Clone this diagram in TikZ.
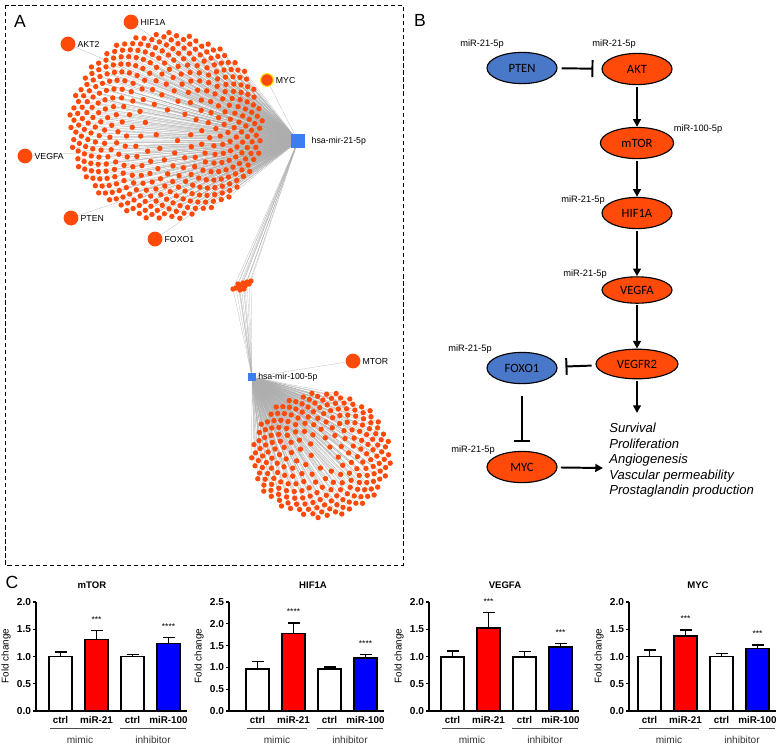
\documentclass[tikz,border=0pt]{standalone}
\usepackage{fontspec}
\setmainfont{Liberation Sans}
\newfontfamily\ovalfont{Carlito}
\usetikzlibrary{positioning,arrows.meta,backgrounds,shapes.geometric}
\definecolor{netred}{HTML}{FF4A0A}
\definecolor{hubblue}{HTML}{3C7DF2}
\definecolor{ovblue}{HTML}{4A78C8}
\definecolor{barred}{HTML}{FF0000}
\definecolor{barblue}{HTML}{0000FF}
\pgfkeys{/pgf/number format/.cd,fixed,fixed zerofill,precision=1,assume math mode=true}
\tikzset{
  dot/.style={circle,fill=netred,inner sep=0pt,minimum size=0.135cm},
  gene/.style={circle,fill=netred,inner sep=0pt,minimum size=0.37cm},
  hub/.style={rectangle,fill=hubblue,inner sep=0pt},
  netedge/.style={draw=black!32,line width=0.15pt},
  glbl/.style={font=\fontsize{6.2}{7}\selectfont,anchor=west,inner sep=1.2pt},
  panel/.style={font=\fontsize{12.5}{14}\selectfont,inner sep=0pt},
  % ---- pathway styles ----
  oval/.style={ellipse,draw=black,line width=0.8pt,minimum width=1.75cm,minimum height=0.78cm,
    inner sep=0pt,font=\ovalfont\fontsize{9}{10}\selectfont},
  mirlbl/.style={font=\fontsize{6.6}{8}\selectfont,inner sep=0pt},
  act/.style={-{Triangle[length=5.5pt,width=5.5pt]},line width=1.4pt},
  inh/.style={-{Bar[width=12pt]},line width=1.4pt},
  fx/.style={font=\itshape\fontsize{9.3}{11}\selectfont,align=left,inner sep=0pt},
  % ---- bar-chart styles ----
  axisln/.style={line width=0.9pt},
  barst/.style={line width=1.1pt},
  errst/.style={line width=1pt},
  ticklbl/.style={font=\bfseries\fontsize{7.2}{8}\selectfont,inner sep=1pt},
  catlbl/.style={font=\bfseries\fontsize{7}{8}\selectfont,inner sep=0pt},
  grplbl/.style={font=\fontsize{7.2}{8}\selectfont,text=black!80,inner sep=0pt},
  grpline/.style={line width=0.6pt,black!70},
  stars/.style={font=\fontsize{6}{6}\selectfont,inner sep=0pt},
  charttitle/.style={font=\bfseries\fontsize{6.8}{8}\selectfont,inner sep=0pt},
  yttl/.style={font=\fontsize{7}{8}\selectfont,inner sep=0pt},
}

\begin{document}
\begin{tikzpicture}[x=0.025cm,y=-0.025cm]
  \useasboundingbox (0,0) rectangle (780,746);
  % ---------------- panel A: target network ----------------
  \draw[densely dashed,line width=0.6pt] (5,5) rectangle (403,565);
  \node[panel] (lA) at (20,21) {A};
  \node[hub,minimum size=0.33cm] (m21) at (298,141) {};
  \node[glbl] (m21l) at ([xshift=0.12cm]m21.east) {hsa-mir-21-5p};
  \node[hub,minimum size=0.2cm] (m100) at (252,377) {};
  \node[glbl] (m100l) at (m100.east) {hsa-mir-100-5p};
  % big cluster, sunflower spiral, denser towards the rim
  \foreach \i in {1,...,420}{
    \pgfmathsetmacro{\rr}{pow(\i/420,0.33)}
    \pgfmathsetmacro{\aa}{360*mod(\i*0.381966,1)}
    \node[dot] (b\i) at ({166+97*\rr*cos(\aa)},{126+94*\rr*sin(\aa)}) {};
  }
  % bottom cluster of hsa-mir-100-5p
  \foreach \i in {1,...,240}{
    \pgfmathsetmacro{\rr}{pow(\i/240,0.36)}
    \pgfmathsetmacro{\aa}{360*mod(\i*0.381966,1)+40}
    \node[dot] (c\i) at ({321+70*\rr*cos(\aa)},{455+63*\rr*sin(\aa)}) {};
  }
  % shared targets in between
  \foreach \px/\py [count=\k] in {233/289,236/288,239/287,238/284,241/285,243/283,245/286,
      247/282,249/284,251/281,244/289,240/290}{
    \node[dot] (s\k) at (\px,\py) {};
  }
  % labelled genes
  \foreach \nm/\px/\py in {HIF1A/131/22,AKT2/68/44,VEGFA/25/156,PTEN/71/218,FOXO1/155/239}{
    \node[gene] (g\nm) at (\px,\py) {};
    \node[glbl] (l\nm) at (g\nm.east) {\nm};
  }
  \node[gene,draw=yellow!85!orange,line width=0.8pt,minimum size=0.32cm] (gMYC) at (267,80) {};
  \node[glbl] (lMYC) at (gMYC.east) {MYC};
  \node[gene] (gMTOR) at (353,361) {};
  \node[glbl] (lMTOR) at (gMTOR.east) {MTOR};
  % all edges behind the nodes
  \begin{pgfonlayer}{background}
    \foreach \i in {1,...,420}{\draw[netedge] (m21) -- (b\i);}
    \foreach \i in {1,...,240}{\draw[netedge] (m100) -- (c\i);}
    \foreach \k in {1,...,12}{
      \draw[netedge] (m21) -- (s\k);
      \draw[netedge] (m100) -- (s\k);
    }
    \foreach \nm in {HIF1A,AKT2,VEGFA,PTEN,FOXO1,MYC}{\draw[netedge] (m21) -- (g\nm);}
    \draw[netedge] (m100) -- (gMTOR);
  \end{pgfonlayer}

  % ---------------- panel B: pathway ----------------
  \node[panel] (lB) at (420,20) {B};
  \node[oval,fill=ovblue] (pten) at (522,68) {PTEN};
  \node[oval,fill=netred] (akt) at (637,69) {AKT};
  \node[oval,fill=netred,minimum width=1.83cm] (mtor) at (637,143) {mTOR};
  \node[oval,fill=netred] (hif) at (637,213) {HIF1A};
  \node[oval,fill=netred,minimum height=0.66cm] (vegfa) at (637,290) {VEGFA};
  \node[oval,fill=netred,minimum width=2.05cm,minimum height=0.74cm] (vegfr) at (637,364) {VEGFR2};
  \node[oval,fill=ovblue] (foxo) at (522,368) {FOXO1};
  \node[oval,fill=netred] (myc) at (522,467) {MYC};
  \node[mirlbl] (mpten) at (482,44) {miR-21-5p};
  \node[mirlbl] (makt) at (614,44) {miR-21-5p};
  \node[mirlbl] (mmtor) at (698,129) {miR-100-5p};
  \node[mirlbl] (mhif) at (583,200) {miR-21-5p};
  \node[mirlbl] (mvegfa) at (585,274) {miR-21-5p};
  \node[mirlbl] (mfoxo) at (470,349) {miR-21-5p};
  \node[mirlbl] (mmyc) at (473,450) {miR-21-5p};
  \node[fx,anchor=north west] (fx) at (609,423)
    {Survival\\Proliferation\\Angiogenesis\\Vascular permeability\\Prostaglandin production};
  \coordinate (fxtop) at (637,413);
  \coordinate (fxleft) at (603,468);
  \draw[inh,shorten <=0.1cm,shorten >=0.2cm] (pten) -- (akt);
  \draw[act,shorten <=1pt] (akt) -- (mtor);
  \draw[act,shorten <=1pt] (mtor) -- (hif);
  \draw[act,shorten <=1pt] (hif) -- (vegfa);
  \draw[act,shorten <=1pt] (vegfa) -- (vegfr);
  \draw[inh,shorten <=0.1cm,shorten >=0.2cm] (vegfr) -- (foxo);
  \draw[inh,shorten <=0.3cm,shorten >=0.22cm] (foxo) -- (myc);
  \draw[act,shorten <=1pt] (vegfr) -- (fxtop);
  \draw[act,shorten <=0.08cm] (myc) -- (fxleft);

  % ---------------- panel C: qPCR fold change ----------------
  \node[panel] (lC) at (12,582) {C};
  \foreach \ax/\bx/\tx/\ym/\ttl/\va/\ea/\vb/\eb/\vc/\ec/\vd/\ed/\sa/\sb in {
      36/49/92/2.0/mTOR/1.00/1.08/1.31/1.48/1.00/1.04/1.24/1.35/***/****,
      229/246/313/2.5/HIF1A/0.97/1.13/1.78/2.02/0.97/1.01/1.21/1.30/****/****,
      429/441/505/2.0/VEGFA/0.99/1.10/1.52/1.81/0.99/1.09/1.17/1.24/***/***,
      629/638/698/2.0/MYC/1.00/1.12/1.38/1.49/1.00/1.05/1.15/1.21/***/***}{
    \pgfmathsetmacro{\pu}{109/\ym}
    \draw[axisln] (\ax,602) -- (\ax,711) -- (\bx+138,711);
    \foreach \tk [count=\j] in {0,0.5,...,\ym}{
      \draw[axisln] (\ax,711-\tk*\pu) -- (\ax-3,711-\tk*\pu)
        node[ticklbl,anchor=east] (tk\ax-\j) {\pgfmathprintnumber{\tk}};
    }
    \foreach \k/\v/\e/\col in {0/\va/\ea/white,1/\vb/\eb/barred,2/\vc/\ec/white,3/\vd/\ed/barblue}{
      \draw[errst] (\bx+36*\k+11.5,711-\v*\pu) -- (\bx+36*\k+11.5,711-\e*\pu);
      \draw[errst] (\bx+36*\k+5.5,711-\e*\pu) -- (\bx+36*\k+17.5,711-\e*\pu);
      \draw[barst,fill=\col] (\bx+36*\k,711) rectangle (\bx+36*\k+23,711-\v*\pu);
    }
    \node[charttitle] (ti\ax) at (\tx,585) {\ttl};
    \node[yttl,rotate=90] (fc\ax) at (\ax-30,656) {Fold change};
    \node[stars] (sa\ax) at (\bx+47.5,711-\eb*\pu-11) {\sa};
    \node[stars] (sb\ax) at (\bx+119.5,711-\ed*\pu-11) {\sb};
    \node[catlbl] (ca\ax) at (\bx+11.5,720) {ctrl};
    \node[catlbl] (cb\ax) at (\bx+47.5,720) {miR-21};
    \node[catlbl] (cc\ax) at (\bx+83.5,720) {ctrl};
    \node[catlbl] (cd\ax) at (\bx+119.5,720) {miR-100};
    \draw[grpline] (\bx+1,728) -- (\bx+61,728);
    \draw[grpline] (\bx+71,728) -- (\bx+137,728);
    \node[grplbl] (gm\ax) at (\bx+31,740) {mimic};
    \node[grplbl] (gi\ax) at (\bx+104,740) {inhibitor};
  }
\end{tikzpicture}
\end{document}
